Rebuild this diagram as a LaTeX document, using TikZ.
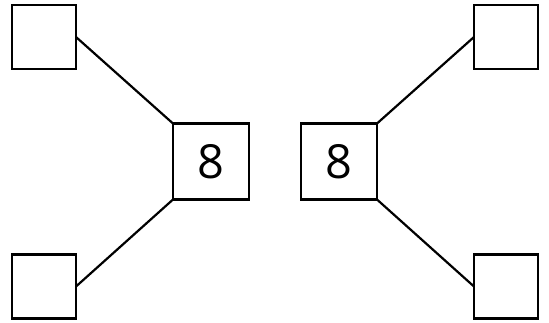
\documentclass[tikz,border=0pt]{standalone}
\usepackage{fontspec}
\setmainfont{Open Sans}
\begin{document}
\begin{tikzpicture}[x=1pt,y=-1pt,
  smallbox/.style={draw,line width=2.4pt,minimum size=64pt,inner sep=0pt,outer sep=0pt},
  bigbox/.style={draw,line width=2.4pt,minimum size=76pt,inner sep=0pt,outer sep=0pt,font=\fontsize{47}{47}\selectfont},
  link/.style={line width=2.2pt}]
\useasboundingbox (0,0) rectangle (549,322);
\node[smallbox] (tl) at (44,37) {};
\node[smallbox] (bl) at (44,286.5) {};
\node[smallbox] (tr) at (506,37) {};
\node[smallbox] (br) at (506,286.5) {};
\node[bigbox] (cl) at (211,161.5) {8};
\node[bigbox] (cr) at (339,161.5) {8};
\draw[link] (tl.east) -- (cl.north west);
\draw[link] (bl.east) -- (cl.south west);
\draw[link] (cr.north east) -- (tr.west);
\draw[link] (cr.south east) -- (br.west);
\end{tikzpicture}
\end{document}
